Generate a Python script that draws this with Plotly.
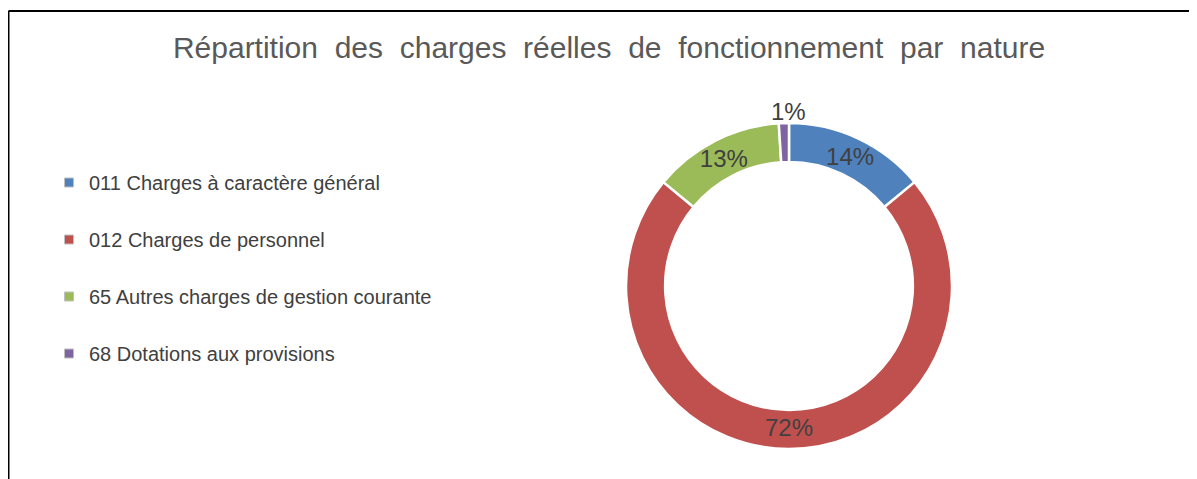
import plotly.graph_objects as go

categories = ["011 Charges à caractère général", "012 Charges de personnel",
              "65 Autres charges de gestion courante", "68 Dotations aux provisions"]
values = [14, 72, 13, 1]
colors = ["#4F81BD", "#C0504D", "#9BBB59", "#8064A2"]
text_positions = ["inside", "inside", "inside", "none"]
title_text = "Répartition des charges réelles de fonctionnement par nature"

# page body has an 8px margin; work in figure coordinates (screen - 8)
W, H = 1189, 471
FONT = "Liberation Sans, Arial"
cx, cy, R = 781, 278, 163

fig = go.Figure()

fig.add_trace(go.Pie(
    labels=categories, values=values, hole=0.76, sort=False,
    direction="clockwise", rotation=0,
    marker=dict(colors=colors, line=dict(color="white", width=2.5)),
    textinfo="percent", texttemplate="%{percent:.0%}",
    textposition=text_positions, insidetextorientation="horizontal",
    textfont=dict(family=FONT, size=24, color="#404040"),
    insidetextfont=dict(family=FONT, size=24, color="#404040"),
    showlegend=False,
    domain=dict(x=[(cx - 240) / W, (cx + 240) / W], y=[(H - cy - R) / H, (H - cy + R) / H]),
))

# label of the small slice, placed centred above the ring (as in the original)
total = sum(values)
small_label = f"{round(100 * values[3] / total)}%"

for i, (cat, col) in enumerate(zip(categories, colors)):
    fig.add_trace(go.Scatter(
        x=[None], y=[None], mode="markers", name=cat, legendgroup=f"g{i}",
        marker=dict(symbol="square", size=9, color=col, line=dict(color="#BFBFBF", width=1)),
    ))

fig.update_layout(
    width=W, height=H,
    margin=dict(l=0, r=0, t=0, b=0),
    paper_bgcolor="white", plot_bgcolor="white",
    uniformtext=dict(minsize=24, mode="show"),
    title=dict(text=" \u00a0".join(title_text.split(" ")), x=601 / W, xanchor="center",
               y=1 - 39 / H, yanchor="middle",
               font=dict(family=FONT, size=30, color="#595959")),
    legend=dict(x=41 / W, xanchor="left", y=1 - 155 / H, yanchor="top",
                font=dict(family=FONT, size=20, color="#404040"),
                tracegroupgap=28, bgcolor="rgba(0,0,0,0)"),
    xaxis=dict(visible=False), yaxis=dict(visible=False),
    annotations=[dict(text=small_label, xref="paper", yref="paper",
                      x=cx / W, y=(H - cy + R) / H, xanchor="center", yanchor="bottom",
                      yshift=-4, showarrow=False,
                      font=dict(family=FONT, size=24, color="#404040"))],
    shapes=[
        dict(type="line", xref="paper", yref="paper", x0=0.5 / W, x1=1, y0=1 - 3 / H, y1=1 - 3 / H,
             line=dict(color="black", width=2)),
        dict(type="line", xref="paper", yref="paper", x0=0.5 / W, x1=0.5 / W, y0=0, y1=1 - 3 / H,
             line=dict(color="black", width=2)),
    ],
)

fig.write_html("out.html")
